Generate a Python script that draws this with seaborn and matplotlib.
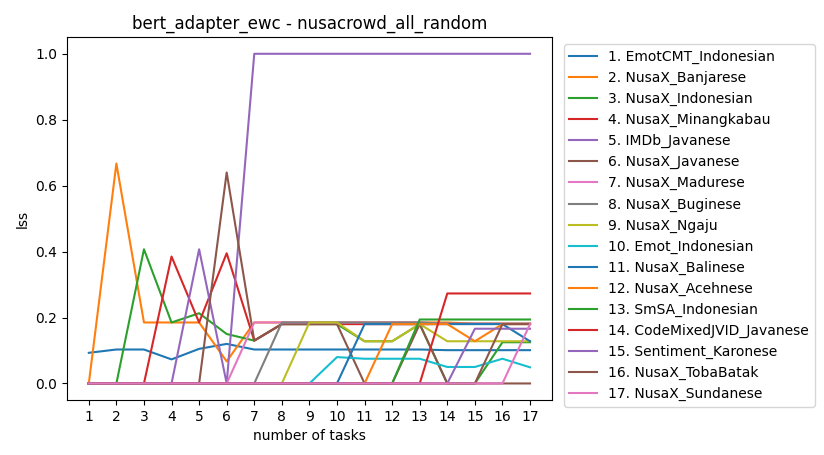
import matplotlib
matplotlib.use("Agg")
import matplotlib.pyplot as plt
import seaborn as sns
import pandas as pd

tasks = list(range(1, 18))
names = ["1. EmotCMT_Indonesian", "2. NusaX_Banjarese", "3. NusaX_Indonesian", "4. NusaX_Minangkabau",
         "5. IMDb_Javanese", "6. NusaX_Javanese", "7. NusaX_Madurese", "8. NusaX_Buginese",
         "9. NusaX_Ngaju", "10. Emot_Indonesian", "11. NusaX_Balinese", "12. NusaX_Acehnese",
         "13. SmSA_Indonesian", "14. CodeMixedJVID_Javanese", "15. Sentiment_Karonese",
         "16. NusaX_TobaBatak", "17. NusaX_Sundanese"]
s1 = [0.093, 0.103, 0.103, 0.073, 0.105, 0.12, 0.103, 0.103, 0.103, 0.103, 0.103, 0.103, 0.103, 0.101, 0.101, 0.101, 0.101]
s2 = [0, 0.667, 0.185, 0.185, 0.185, 0.067, 0.185, 0.185, 0.185, 0.185, 0.185, 0.185, 0.185, 0.185, 0.181, 0.181, 0.181]
s3 = [0, 0, 0.407, 0.185, 0.213, 0.15, 0.13, 0.18, 0.18, 0.18, 0.128, 0.128, 0.18, 0, 0, 0.125, 0.125]
s4 = [0, 0, 0, 0.385, 0.185, 0.395, 0.13, 0.18, 0.18, 0.18, 0.18, 0.18, 0.18, 0.181, 0.181, 0.181, 0.181]
s5 = [0, 0, 0, 0, 0.407, 0, 1.0, 1.0, 1.0, 1.0, 1.0, 1.0, 1.0, 1.0, 1.0, 1.0, 1.0]
s6 = [0, 0, 0, 0, 0, 0.64, 0.13, 0.18, 0.18, 0.18, 0, 0, 0.18, 0, 0, 0, 0]
s7 = [0, 0, 0, 0, 0, 0, 0.185, 0.185, 0.185, 0.185, 0.185, 0.185, 0.185, 0.181, 0.181, 0.181, 0.181]
s8 = [0, 0, 0, 0, 0, 0, 0, 0.185, 0.185, 0.185, 0.185, 0.185, 0.185, 0.181, 0.181, 0.181, 0.181]
s9 = [0, 0, 0, 0, 0, 0, 0, 0, 0.185, 0.185, 0.128, 0.128, 0.18, 0.128, 0.128, 0.128, 0.128]
s10 = [0, 0, 0, 0, 0, 0, 0, 0, 0, 0.08, 0.075, 0.075, 0.075, 0.05, 0.05, 0.075, 0.049]
s11 = [0, 0, 0, 0, 0, 0, 0, 0, 0, 0, 0.18, 0.18, 0.18, 0.18, 0.18, 0.18, 0.128]
s12 = [0, 0, 0, 0, 0, 0, 0, 0, 0, 0, 0, 0.18, 0.18, 0.18, 0.128, 0.18, 0.18]
s13 = [0, 0, 0, 0, 0, 0, 0, 0, 0, 0, 0, 0, 0.194, 0.194, 0.194, 0.194, 0.194]
s14 = [0, 0, 0, 0, 0, 0, 0, 0, 0, 0, 0, 0, 0, 0.273, 0.273, 0.273, 0.273]
s15 = [0, 0, 0, 0, 0, 0, 0, 0, 0, 0, 0, 0, 0, 0, 0.166, 0.166, 0.166]
s16 = [0, 0, 0, 0, 0, 0, 0, 0, 0, 0, 0, 0, 0, 0, 0, 0.18, 0.18]
s17 = [0, 0, 0, 0, 0, 0, 0, 0, 0, 0, 0, 0, 0, 0, 0, 0, 0.18]
series = [s1, s2, s3, s4, s5, s6, s7, s8, s9, s10, s11, s12, s13, s14, s15, s16, s17]

rows = []
for n, vals in zip(names, series):
    for t, v in zip(tasks, vals):
        rows.append({"task": t, "lss": v, "name": n})
df = pd.DataFrame(rows)

fig, ax = plt.subplots(figsize=(8.24, 4.55), dpi=100)
fig.subplots_adjust(left=0.081, right=0.670, top=0.918, bottom=0.121)
palette = sns.color_palette("tab10", 10)
colors = [palette[i % 10] for i in range(17)]
sns.lineplot(data=df, x="task", y="lss", hue="name", hue_order=names, palette=colors, ax=ax)
ax.set_xticks(tasks)
ax.set_xlabel("number of tasks")
ax.set_ylabel("lss")
ax.set_title("bert_adapter_ewc - nusacrowd_all_random")
ax.legend(loc="upper left", bbox_to_anchor=(1.01, 1.0), title=None)
fig.savefig("out.png", dpi=100)
